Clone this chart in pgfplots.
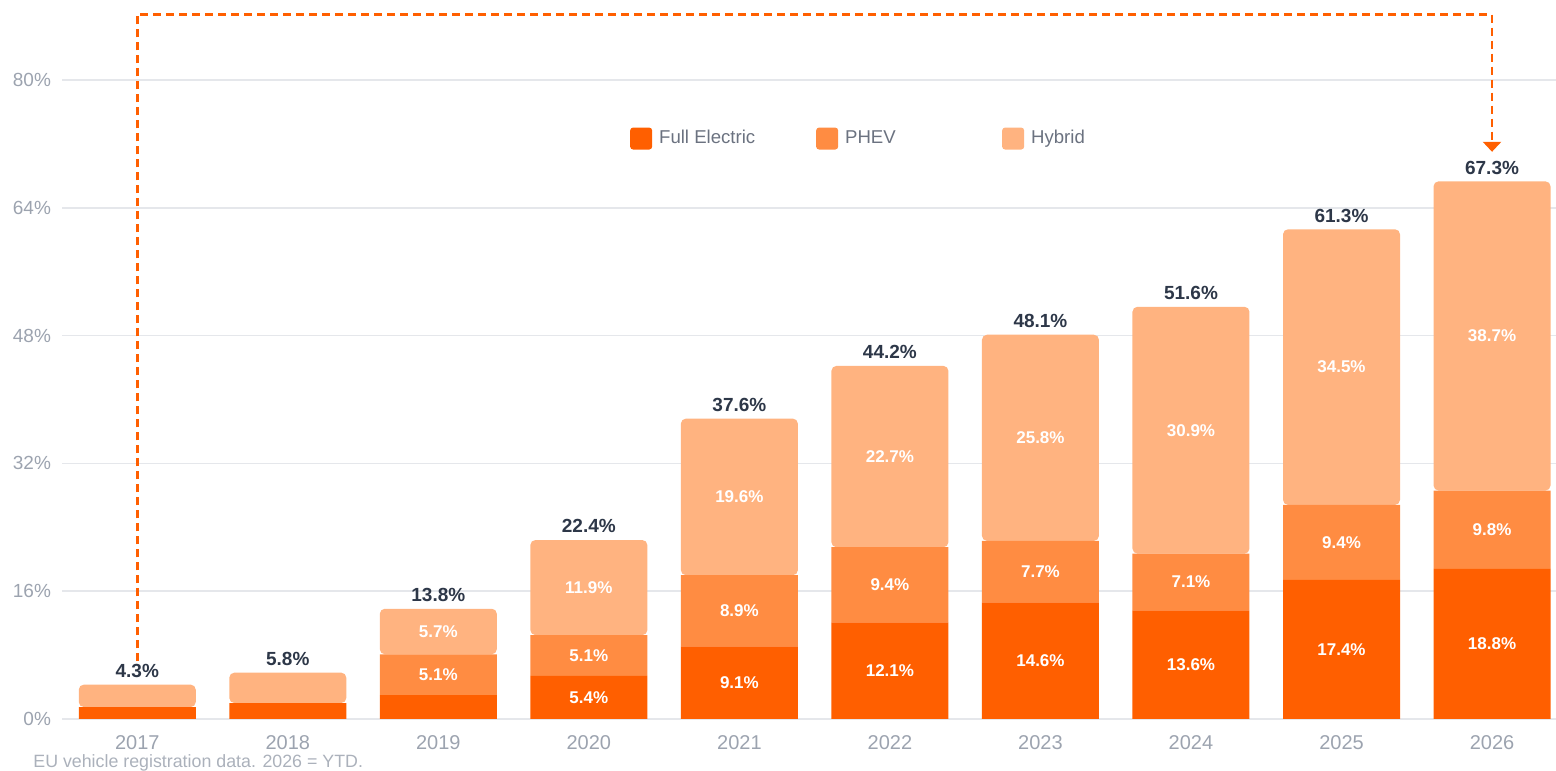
\documentclass[border=0pt]{standalone}
\usepackage{pgfplots}
\pgfplotsset{compat=1.18}
\usepackage{pgfplotstable}
\usepackage{fontspec}
\setmainfont{Liberation Sans}
\usetikzlibrary{arrows.meta,calc}

\definecolor{fullev}{HTML}{FF5F00}
\definecolor{phev}{HTML}{FF8C42}
\definecolor{hyb}{HTML}{FFB380}
\definecolor{tickgray}{HTML}{9CA3AF}
\definecolor{leggray}{HTML}{6B7280}
\definecolor{totgray}{HTML}{2D3748}
\definecolor{gridgray}{HTML}{E5E7EB}

% shares of new registrations, %
\pgfplotstableread{
x fe phev hyb
0 1.5 0 2.8
1 2.0 0 3.8
2 3.0 5.1 5.7
3 5.4 5.1 11.9
4 9.1 8.9 19.6
5 12.1 9.4 22.7
6 14.6 7.7 25.8
7 13.6 7.1 30.9
8 17.4 9.4 34.5
9 18.8 9.8 38.7
}\shares

% segment labels (y = middle of segment)
\pgfplotstableread{
x y v
2 5.55 5.1
2 10.95 5.7
3 2.7 5.4
3 7.95 5.1
3 16.45 11.9
4 4.55 9.1
4 13.55 8.9
4 27.8 19.6
5 6.05 12.1
5 16.8 9.4
5 32.85 22.7
6 7.3 14.6
6 18.45 7.7
6 35.2 25.8
7 6.8 13.6
7 17.15 7.1
7 36.15 30.9
8 8.7 17.4
8 22.1 9.4
8 44.05 34.5
9 9.4 18.8
9 23.7 9.8
9 47.95 38.7
}\inlabels

\pgfplotstableread{
x y
0 4.3
1 5.8
2 13.8
3 22.4
4 37.6
5 44.2
6 48.1
7 51.6
8 61.3
9 67.3
}\totals

\pgfplotsset{
  base/.style={
    width=747pt, height=353.5pt, scale only axis,
    xmin=-0.5, xmax=9.425, ymin=0, ymax=88.5,
    /pgf/number format/assume math mode=true,
  }
}

\begin{document}
\begin{tikzpicture}
\begin{axis}[base,
  ybar stacked, bar width=58.5pt,
  axis line style={draw=none},
  major tick length=0pt,
  ytick={0,16,...,80},
  yticklabel={\pgfmathprintnumber{\tick}\%},
  xtick={0,...,9},
  xticklabels={2017,2018,2019,2020,2021,2022,2023,2024,2025,2026},
  ymajorgrids, grid style={gridgray, line width=0.8pt},
  tick label style={text=tickgray},
  yticklabel style={font=\fontsize{9.5}{11}\selectfont, xshift=-2pt},
  xticklabel style={font=\fontsize{10}{12}\selectfont, yshift=-4.5pt},
  clip=false,
  legend columns=3,
  legend style={at={(0.376,0.821)}, anchor=west, draw=none, fill=none,
    font=\fontsize{9.3}{11}\selectfont, text=leggray,
    /tikz/every even column/.append style={column sep=0pt}},
  legend image code/.code={\fill[#1,rounded corners=1.5pt] (0pt,-5.5pt) rectangle (11pt,5.5pt);},
]
\addplot[fill=fullev, draw=none] table[x=x,y=fe] {\shares};
\addlegendentry{\makebox[78pt][l]{\hspace{1.5pt}Full Electric}}
\addplot[fill=phev, draw=none] table[x=x,y=phev] {\shares};
\addlegendentry{\makebox[78pt][l]{\hspace{1.5pt}PHEV}}
\addplot[fill=hyb, draw=none, rounded corners=2.5pt] table[x=x,y=hyb] {\shares};
\addlegendentry{\makebox[78pt][l]{\hspace{1.5pt}Hybrid}}

\draw[fullev, line width=1.25pt, dash pattern=on 4pt off 2.5pt,
  -{Triangle[width=9pt,length=5pt]}]
  (axis cs:0,7.2) |- (axis cs:9,88.2) -- (axis cs:9,71);

\coordinate (bl) at ($(rel axis cs:0,0)+(-31pt,-25.5pt)$);
\coordinate (tr) at ($(rel axis cs:1,1)+(0pt,6pt)$);
\end{axis}

\begin{axis}[base, hide axis, clip=false]
\addplot[draw=none, mark=none, nodes near coords, point meta=explicit,
  nodes near coords={\pgfmathprintnumber[fixed,fixed zerofill,precision=1]{\pgfplotspointmeta}\%},
  every node near coord/.style={anchor=center, text=white,
    font=\fontsize{8.5}{10}\selectfont\bfseries}]
  table[x=x,y=y,meta=v] {\inlabels};
\addplot[draw=none, mark=none, nodes near coords, point meta=explicit,
  nodes near coords={\pgfmathprintnumber[fixed,fixed zerofill,precision=1]{\pgfplotspointmeta}\%},
  every node near coord/.style={anchor=south, text=totgray,
    font=\fontsize{9.5}{11}\selectfont\bfseries}]
  table[x=x,y=y,meta=y] {\totals};
\end{axis}

\node[anchor=west, text=tickgray!85, font=\fontsize{8.9}{10}\selectfont, inner sep=0pt]
  at ($(bl)+(16.5pt,3.5pt)$) {EU vehicle registration data. 2026 = YTD.};

\pgfresetboundingbox
\path (bl) rectangle (tr);
\end{tikzpicture}
\end{document}
